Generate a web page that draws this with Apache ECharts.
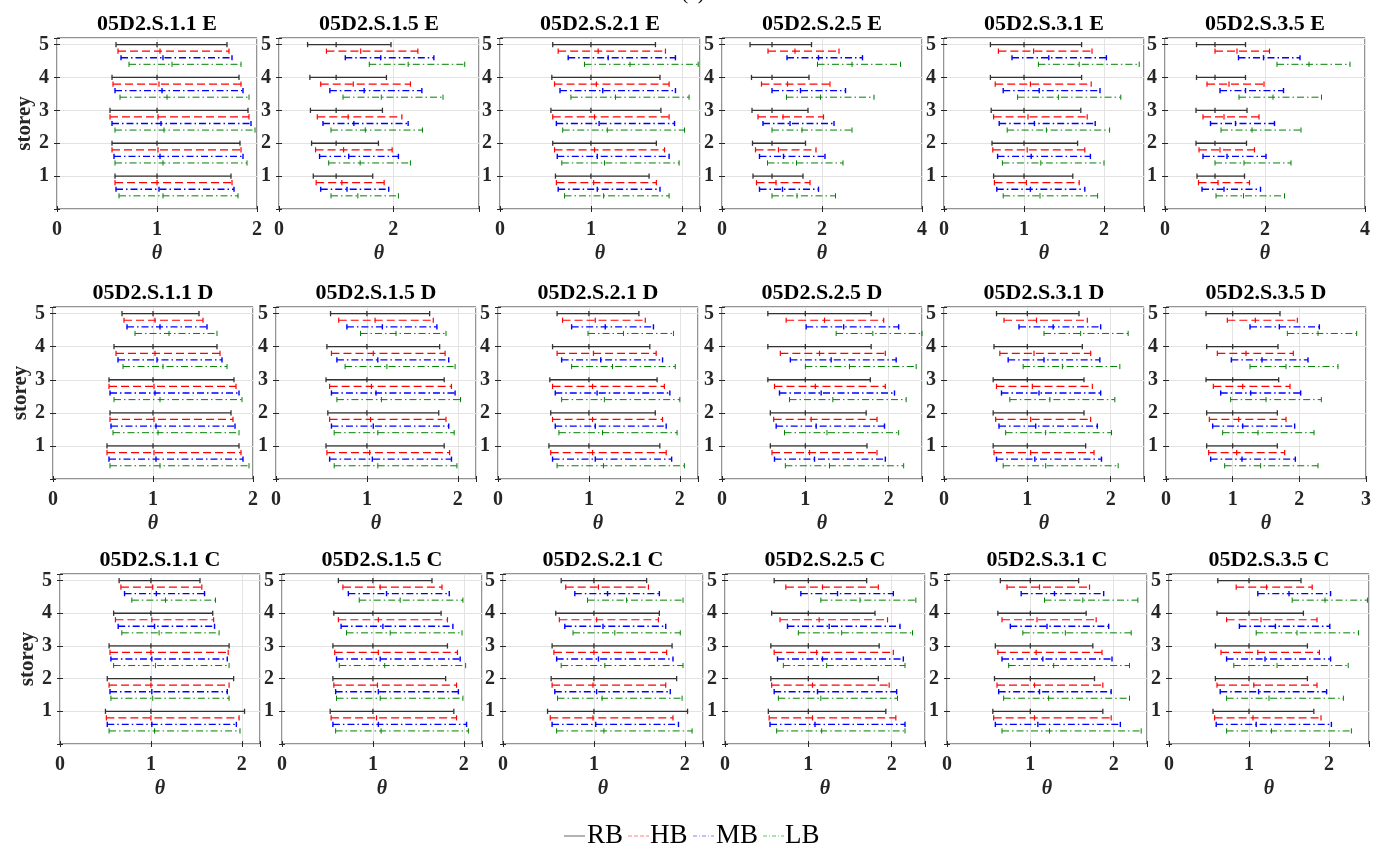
<!DOCTYPE html>
<html><head><meta charset="utf-8">
<script src="https://cdn.jsdelivr.net/npm/echarts@6/dist/echarts.min.js"></script>
<style>html,body{margin:0;padding:0;background:#fff}#c{width:1386px;height:850px}</style>
</head><body><div id="c"></div><script>
// ---------------- DATA ----------------
const seriesNames = ['RB', 'HB', 'MB', 'LB'];
const storeys = [1, 2, 3, 4, 5];
const titles = [
  '05D2.S.1.1 E', '05D2.S.1.5 E', '05D2.S.2.1 E', '05D2.S.2.5 E', '05D2.S.3.1 E', '05D2.S.3.5 E',
  '05D2.S.1.1 D', '05D2.S.1.5 D', '05D2.S.2.1 D', '05D2.S.2.5 D', '05D2.S.3.1 D', '05D2.S.3.5 D',
  '05D2.S.1.1 C', '05D2.S.1.5 C', '05D2.S.2.1 C', '05D2.S.2.5 C', '05D2.S.3.1 C', '05D2.S.3.5 C'
];
const xMaxes = [2, 3.5, 2.2, 4, 2.5, 4, 2, 2.2, 2.2, 2.4, 2.4, 3, 2.2, 2.2, 2.2, 2.4, 2.4, 2.5];
const xIntervals = [1, 2, 1, 2, 1, 2, 1, 1, 1, 1, 1, 1, 1, 1, 1, 1, 1, 1];
const yTicks = [1, 2, 3, 4, 5];

// each panel: [RB, HB, MB, LB], each series: storey 1..5 of [min, mean, max]
const S11E = [
  [[0.58,1,1.74],[0.55,1,1.83],[0.53,1,1.91],[0.55,1,1.82],[0.59,1,1.70]],
  [[0.58,1.00,1.75],[0.55,1.01,1.84],[0.53,1.01,1.92],[0.56,1.02,1.84],[0.61,1.03,1.72]],
  [[0.59,1.02,1.77],[0.57,1.03,1.86],[0.55,1.04,1.94],[0.58,1.05,1.86],[0.64,1.06,1.75]],
  [[0.62,1.06,1.81],[0.58,1.06,1.90],[0.58,1.07,1.98],[0.63,1.10,1.92],[0.72,1.15,1.84]]
];
const S15E = [
  [[0.60,1,1.64],[0.57,1,1.74],[0.55,1,1.81],[0.54,1,1.88],[0.50,1,1.96]],
  [[0.65,1.10,1.84],[0.64,1.13,1.98],[0.67,1.21,2.15],[0.73,1.30,2.30],[0.83,1.43,2.43]],
  [[0.73,1.19,1.92],[0.71,1.22,2.09],[0.77,1.31,2.26],[0.89,1.49,2.50],[1.16,1.78,2.71]],
  [[0.91,1.38,2.09],[0.87,1.42,2.30],[0.91,1.51,2.51],[1.12,1.79,2.87],[1.58,2.26,3.25]]
];
const S21E = [
  [[0.61,1,1.64],[0.58,1,1.72],[0.56,1,1.77],[0.57,1,1.76],[0.58,1,1.71]],
  [[0.62,1.03,1.72],[0.60,1.04,1.81],[0.58,1.04,1.86],[0.60,1.06,1.86],[0.64,1.08,1.82]],
  [[0.64,1.07,1.76],[0.63,1.07,1.86],[0.62,1.09,1.92],[0.66,1.13,1.93],[0.75,1.19,1.93]],
  [[0.71,1.14,1.86],[0.68,1.15,1.97],[0.69,1.18,2.03],[0.78,1.27,2.08],[0.93,1.43,2.18]]
];
const S25E = [
  [[0.62,1,1.62],[0.61,1,1.67],[0.60,1,1.72],[0.59,1,1.74],[0.56,1,1.79]],
  [[0.69,1.08,1.76],[0.67,1.13,1.88],[0.72,1.22,2.03],[0.79,1.31,2.16],[0.92,1.46,2.34]],
  [[0.75,1.21,1.93],[0.75,1.23,2.06],[0.82,1.36,2.24],[1.00,1.57,2.47],[1.30,1.93,2.81]],
  [[1.00,1.50,2.27],[0.91,1.49,2.42],[1.00,1.60,2.60],[1.29,1.97,3.04],[1.91,2.60,3.57]]
];
const S31E = [
  [[0.62,1,1.61],[0.60,1,1.67],[0.59,1,1.71],[0.58,1,1.72],[0.58,1,1.72]],
  [[0.63,1.03,1.69],[0.61,1.04,1.76],[0.62,1.05,1.79],[0.64,1.08,1.84],[0.68,1.12,1.85]],
  [[0.66,1.08,1.76],[0.67,1.09,1.83],[0.69,1.13,1.89],[0.74,1.19,1.95],[0.85,1.31,2.03]],
  [[0.74,1.20,1.92],[0.73,1.21,2.00],[0.79,1.28,2.07],[0.92,1.43,2.21],[1.18,1.69,2.44]]
];
const S35E = [
  [[0.64,1,1.59],[0.62,1,1.63],[0.62,1,1.64],[0.63,1,1.61],[0.63,1,1.61]],
  [[0.67,1.06,1.69],[0.68,1.10,1.79],[0.76,1.18,1.88],[0.84,1.28,1.98],[1.00,1.44,2.09]],
  [[0.74,1.18,1.91],[0.76,1.24,2.02],[0.91,1.41,2.19],[1.10,1.61,2.37],[1.47,1.97,2.70]],
  [[1.02,1.57,2.39],[1.00,1.58,2.52],[1.12,1.74,2.72],[1.48,2.16,3.13],[2.24,2.88,3.70]]
];
const S11D = [
  [[0.54,1,1.86],[0.57,1,1.78],[0.56,1,1.81],[0.61,1,1.64],[0.69,1,1.46]],
  [[0.54,1.01,1.88],[0.57,1.01,1.80],[0.56,1.01,1.83],[0.63,1.02,1.67],[0.71,1.02,1.50]],
  [[0.56,1.03,1.90],[0.58,1.03,1.82],[0.57,1.02,1.86],[0.65,1.04,1.69],[0.74,1.07,1.54]],
  [[0.57,1.07,1.96],[0.60,1.05,1.86],[0.61,1.07,1.89],[0.70,1.10,1.74],[0.82,1.16,1.64]]
];
const S15D = [
  [[0.55,1,1.85],[0.57,1,1.79],[0.55,1,1.85],[0.56,1,1.80],[0.60,1,1.69]],
  [[0.56,1.03,1.91],[0.59,1.04,1.87],[0.59,1.05,1.93],[0.61,1.07,1.86],[0.69,1.09,1.73]],
  [[0.59,1.06,1.93],[0.61,1.07,1.90],[0.61,1.10,1.97],[0.67,1.12,1.90],[0.78,1.17,1.77]],
  [[0.64,1.12,1.99],[0.64,1.12,1.96],[0.67,1.16,2.03],[0.76,1.22,1.97],[0.93,1.32,1.87]]
];
const S21D = [
  [[0.56,1,1.78],[0.58,1,1.73],[0.57,1,1.75],[0.60,1,1.67],[0.65,1,1.55]],
  [[0.58,1.04,1.85],[0.60,1.04,1.81],[0.60,1.04,1.83],[0.65,1.05,1.74],[0.71,1.07,1.62]],
  [[0.60,1.07,1.91],[0.63,1.07,1.85],[0.63,1.09,1.89],[0.70,1.13,1.81],[0.81,1.18,1.71]],
  [[0.65,1.16,2.05],[0.67,1.15,1.97],[0.70,1.17,2.00],[0.81,1.26,1.95],[0.99,1.38,1.93]]
];
const S25D = [
  [[0.58,1,1.74],[0.58,1,1.73],[0.55,1,1.78],[0.55,1,1.79],[0.55,1,1.79]],
  [[0.60,1.05,1.86],[0.62,1.07,1.86],[0.63,1.12,1.96],[0.70,1.17,1.96],[0.77,1.23,1.94]],
  [[0.63,1.11,1.96],[0.65,1.13,1.95],[0.69,1.19,2.07],[0.82,1.31,2.09],[1.01,1.46,2.12]],
  [[0.76,1.29,2.18],[0.75,1.26,2.12],[0.81,1.33,2.21],[1.00,1.53,2.33],[1.37,1.81,2.40]]
];
const S31D = [
  [[0.59,1,1.70],[0.59,1,1.68],[0.59,1,1.68],[0.60,1,1.66],[0.63,1,1.62]],
  [[0.60,1.04,1.80],[0.62,1.04,1.76],[0.63,1.06,1.78],[0.67,1.08,1.76],[0.72,1.11,1.72]],
  [[0.63,1.09,1.89],[0.66,1.10,1.84],[0.69,1.14,1.88],[0.77,1.20,1.87],[0.90,1.31,1.88]],
  [[0.71,1.22,2.09],[0.74,1.22,2.01],[0.79,1.27,2.05],[0.95,1.42,2.11],[1.20,1.64,2.21]]
];
const S35D = [
  [[0.61,1,1.67],[0.61,1,1.67],[0.60,1,1.69],[0.61,1,1.68],[0.60,1,1.71]],
  [[0.64,1.06,1.78],[0.65,1.09,1.80],[0.71,1.15,1.86],[0.77,1.20,1.91],[0.92,1.34,1.97]],
  [[0.67,1.14,1.94],[0.70,1.15,1.93],[0.82,1.27,2.02],[0.98,1.44,2.13],[1.26,1.70,2.30]],
  [[0.88,1.42,2.28],[0.85,1.38,2.22],[0.97,1.50,2.33],[1.26,1.80,2.58],[1.82,2.28,2.86]]
];
const S11C = [
  [[0.50,1,2.03],[0.52,1,1.91],[0.54,1,1.86],[0.59,1,1.68],[0.65,1,1.54]],
  [[0.51,1.00,1.97],[0.54,1.00,1.86],[0.55,1.00,1.85],[0.61,1.01,1.69],[0.67,1.02,1.56]],
  [[0.52,1.01,1.94],[0.55,1.01,1.84],[0.56,1.01,1.84],[0.64,1.04,1.70],[0.71,1.06,1.59]],
  [[0.54,1.04,1.98],[0.56,1.02,1.86],[0.59,1.05,1.86],[0.68,1.09,1.75],[0.79,1.16,1.71]]
];
const S15C = [
  [[0.53,1,1.89],[0.56,1,1.80],[0.56,1,1.82],[0.57,1,1.75],[0.62,1,1.65]],
  [[0.54,1.04,1.92],[0.57,1.05,1.92],[0.58,1.06,1.93],[0.62,1.06,1.82],[0.67,1.08,1.76]],
  [[0.56,1.06,2.03],[0.59,1.06,1.94],[0.60,1.08,1.96],[0.65,1.11,1.88],[0.73,1.15,1.84]],
  [[0.59,1.09,2.05],[0.60,1.08,1.99],[0.63,1.13,2.02],[0.71,1.19,1.98],[0.85,1.30,1.99]]
];
const S21C = [
  [[0.49,1,2.03],[0.53,1,1.91],[0.54,1,1.86],[0.58,1,1.72],[0.64,1,1.58]],
  [[0.52,0.99,1.87],[0.54,0.99,1.79],[0.56,1.00,1.80],[0.62,1.03,1.71],[0.69,1.05,1.60]],
  [[0.54,1.02,1.93],[0.57,1.03,1.84],[0.59,1.05,1.87],[0.68,1.10,1.79],[0.79,1.15,1.72]],
  [[0.59,1.11,2.08],[0.60,1.09,1.97],[0.64,1.12,1.98],[0.77,1.23,1.95],[0.93,1.36,1.98]]
];
const S25C = [
  [[0.52,1,1.93],[0.55,1,1.84],[0.55,1,1.85],[0.56,1,1.80],[0.59,1,1.70]],
  [[0.53,1.05,2.05],[0.56,1.05,1.97],[0.59,1.10,2.02],[0.66,1.13,1.95],[0.73,1.17,1.84]],
  [[0.54,1.08,2.16],[0.59,1.11,2.06],[0.63,1.17,2.14],[0.75,1.25,2.10],[0.91,1.35,2.02]],
  [[0.62,1.16,2.16],[0.64,1.15,2.07],[0.70,1.22,2.16],[0.88,1.40,2.25],[1.15,1.62,2.29]]
];
const S31C = [
  [[0.55,1,1.87],[0.57,1,1.77],[0.58,1,1.75],[0.61,1,1.67],[0.64,1,1.58]],
  [[0.56,1.05,1.97],[0.60,1.05,1.87],[0.61,1.07,1.86],[0.66,1.08,1.79],[0.72,1.11,1.71]],
  [[0.58,1.09,2.08],[0.62,1.11,1.97],[0.66,1.15,1.98],[0.76,1.20,1.94],[0.89,1.29,1.88]],
  [[0.66,1.23,2.33],[0.68,1.22,2.19],[0.74,1.28,2.19],[0.91,1.42,2.21],[1.17,1.63,2.29]]
];
const S35C = [
  [[0.55,1,1.81],[0.58,1,1.73],[0.58,1,1.73],[0.60,1,1.68],[0.61,1,1.65]],
  [[0.57,1.05,1.90],[0.60,1.06,1.85],[0.65,1.11,1.88],[0.72,1.15,1.85],[0.84,1.22,1.79]],
  [[0.59,1.09,2.03],[0.64,1.12,1.97],[0.72,1.20,2.02],[0.88,1.33,2.01],[1.11,1.50,2.02]],
  [[0.72,1.28,2.28],[0.72,1.25,2.18],[0.81,1.35,2.24],[1.09,1.60,2.37],[1.54,1.95,2.48]]
];
const panels = [S11E, S15E, S21E, S25E, S31E, S35E, S11D, S15D, S21D, S25D, S31D, S35D,
                S11C, S15C, S21C, S25C, S31C, S35C];

// ---------------- LAYOUT / STYLE ----------------
const FONT = '"Liberation Serif", "Times New Roman", serif';
const rowTops = [38, 307, 574];
const rowHeights = [171, 172, 170];
const colLefts = [[57, 279, 500, 722, 944, 1165], [53, 276, 498, 722, 944, 1166], [60, 282, 503, 725, 947, 1169]];
const W = 200;
const sStyles = [
  { color: '#333333', width: 1.3, dash: null, legend: '#666666', ldash: null },
  { color: '#ff0000', width: 1.2, dash: [8, 4], legend: '#ff8080', ldash: [4, 2] },
  { color: '#0000ff', width: 1.4, dash: [7, 3, 1.5, 3], legend: '#8080ff', ldash: [4, 2, 1, 2] },
  { color: '#008000', width: 1.0, dash: [7, 3, 1.5, 3], legend: '#60c060', ldash: [4, 2, 1, 2] }
];
const OFFSET = 0.2;
const CAP = 2.6;

const grids = [], xAxes = [], yAxes = [], series = [], graphics = [];
const isMult = (v, iv) => Math.abs(v / iv - Math.round(v / iv)) < 1e-6;
const tickStyle = { show: true, inside: true, length: 3, lineStyle: { color: '#262626' } };

panels.forEach((panel, i) => {
  const r = Math.floor(i / 6), c = i % 6;
  const left = colLefts[r][c], top = rowTops[r], h = rowHeights[r];
  grids.push({ left: left, top: top, width: W, height: h, show: true, borderColor: '#262626', borderWidth: 1, backgroundColor: '#fff', containLabel: false });
  const iv = xIntervals[i];
  xAxes.push({
    gridIndex: i, type: 'value', min: 0, max: xMaxes[i], interval: iv, position: 'bottom',
    axisLine: { show: false }, axisTick: tickStyle,
    splitLine: { show: true, lineStyle: { color: '#e3e3e3', width: 1 } },
    axisLabel: { fontFamily: FONT, fontWeight: 'bold', fontSize: 20, color: '#262626', margin: 11,
      formatter: v => isMult(v, iv) ? String(Math.round(v)) : '' },
    name: 'θ', nameLocation: 'middle', nameGap: 35,
    nameTextStyle: { fontFamily: FONT, fontStyle: 'italic', fontWeight: 'bold', fontSize: 20, color: '#262626' }
  });
  xAxes.push({
    gridIndex: i, type: 'value', min: 0, max: xMaxes[i], interval: iv, position: 'top',
    axisLine: { show: false }, axisTick: tickStyle, splitLine: { show: false }, axisLabel: { show: false }
  });
  yAxes.push({
    gridIndex: i, type: 'value', min: 0, max: 5.2, interval: 1, position: 'left',
    axisLine: { show: false }, axisTick: tickStyle,
    splitLine: { show: true, lineStyle: { color: '#e3e3e3', width: 1 } },
    axisLabel: { fontFamily: FONT, fontWeight: 'bold', fontSize: 20, color: '#262626', margin: 8,
      formatter: v => (yTicks.indexOf(v) >= 0 ? String(v) : '') },
    name: c === 0 ? 'storey' : '', nameLocation: 'middle', nameGap: 16,
    nameTextStyle: { fontFamily: FONT, fontWeight: 'bold', fontSize: 21, color: '#262626' }
  });
  yAxes.push({
    gridIndex: i, type: 'value', min: 0, max: 5.2, interval: 1, position: 'right',
    axisLine: { show: false }, axisTick: tickStyle, splitLine: { show: false }, axisLabel: { show: false }
  });
  graphics.push({
    type: 'text', x: left + W / 2, y: top - 14,
    style: { text: titles[i], fontFamily: FONT, fontWeight: 'bold', fontSize: 22, fill: '#000', align: 'center', verticalAlign: 'middle' }
  });
  panel.forEach((vals, k) => {
    const st = sStyles[k];
    const data = vals.map((v, s) => [v[0], v[1], v[2], storeys[s] - OFFSET * k]);
    series.push({
      type: 'custom', name: seriesNames[k], xAxisIndex: 2 * i, yAxisIndex: 2 * i,
      encode: { x: [0, 1, 2], y: 3 }, data: data, silent: true, animation: false,
      renderItem: function (params, api) {
        const y = api.value(3);
        const p0 = api.coord([api.value(0), y]);
        const p1 = api.coord([api.value(1), y]);
        const p2 = api.coord([api.value(2), y]);
        const ls = { stroke: st.color, lineWidth: st.width, lineDash: st.dash || null, fill: null };
        const ts = { stroke: st.color, lineWidth: st.width, fill: null };
        const tick = p => ({ type: 'line', shape: { x1: p[0], y1: p[1] - CAP, x2: p[0], y2: p[1] + CAP }, style: ts });
        return { type: 'group', children: [
          { type: 'line', shape: { x1: p0[0], y1: p0[1], x2: p2[0], y2: p2[1] }, style: ls },
          tick(p0), tick(p1), tick(p2)
        ] };
      }
    });
  });
});

// legend (drawn as graphics)
const legendPos = [[564, 587], [628, 650], [693, 716], [763, 785]];
const LY = 836;
seriesNames.forEach((n, k) => {
  const st = sStyles[k];
  graphics.push({ type: 'line', shape: { x1: legendPos[k][0], y1: LY, x2: legendPos[k][0] + 21, y2: LY },
    style: { stroke: st.legend, lineWidth: 1, lineDash: st.ldash } });
  graphics.push({ type: 'text', x: legendPos[k][1], y: LY,
    style: { text: n, fontFamily: FONT, fontSize: 27, fill: '#000', align: 'left', verticalAlign: 'middle' } });
});
// partially visible super-title at top
graphics.push({ type: 'text', x: 693, y: 4, style: { text: '(a)', fontFamily: FONT, fontSize: 21, fill: '#000', align: 'center', verticalAlign: 'bottom' } });

const chart = echarts.init(document.getElementById('c'), null, { renderer: 'canvas' });
chart.setOption({
  backgroundColor: '#ffffff',
  animation: false,
  grid: grids, xAxis: xAxes, yAxis: yAxes, series: series,
  graphic: graphics
});
</script></body></html>
